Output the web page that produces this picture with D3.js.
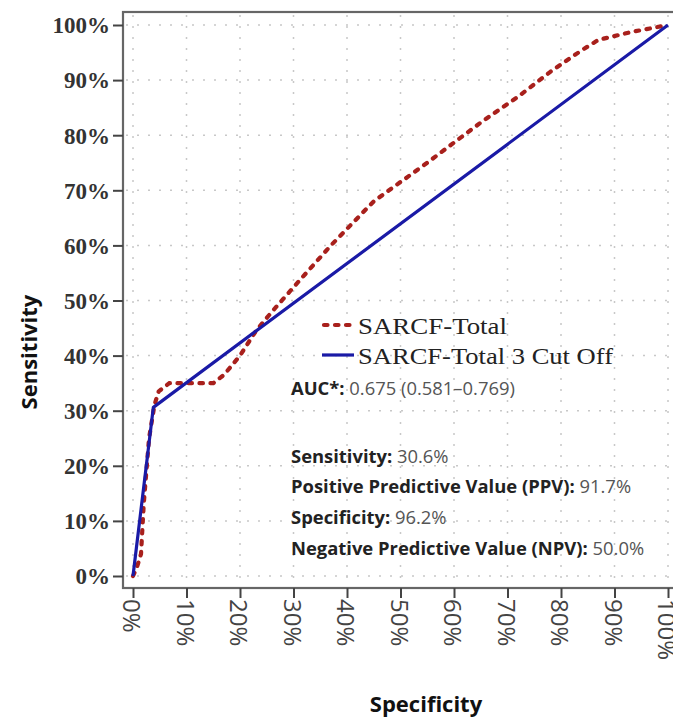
<!DOCTYPE html>
<html>
<head>
<meta charset="utf-8">
<script src="https://cdn.jsdelivr.net/npm/d3@7"></script>
<style>
  html, body { margin: 0; padding: 0; background: #fff; }
  svg { display: block; }
</style>
</head>
<body>
<svg id="chart" width="673" height="718"></svg>
<script>
// ---- data (percent) ----
const tickValues = [0, 10, 20, 30, 40, 50, 60, 70, 80, 90, 100];
const tickLabels = ["0%", "10%", "20%", "30%", "40%", "50%", "60%", "70%", "80%", "90%", "100%"];

// SARCF-Total ROC curve: [1 - specificity %, sensitivity %]
const sarcfTotalX = [0, 0.7, 1.5, 2, 3, 4, 4.8, 6.8, 15, 17, 20, 23, 26, 31, 37, 41, 45, 50, 55, 65, 72, 78, 84, 87, 93, 100];
const sarcfTotalY = [0, 1.5, 4, 13, 25, 31, 33.5, 35, 35, 36.5, 40, 44.5, 48, 53.5, 60, 64, 68, 71.5, 75, 82.3, 87, 91.5, 95.5, 97.3, 98.7, 100];

// SARCF-Total 3 cut off
const cutOffX = [0, 3.8, 100];
const cutOffY = [0, 30.6, 100];

const seriesNames = ["SARCF-Total", "SARCF-Total 3 Cut Off"];
const axisTitles = { x: "Specificity", y: "Sensitivity" };
const statLines = [
  ["AUC*: ", "0.675 (0.581\u20130.769)"],
  ["Sensitivity: ", "30.6%"],
  ["Positive Predictive Value (PPV): ", "91.7%"],
  ["Specificity: ", "96.2%"],
  ["Negative Predictive Value (NPV): ", "50.0%"]
];

// ---- drawing ----
const svg = d3.select("#chart");
const frame = { left: 123, top: 12, right: 683, bottom: 588 };
const x = d3.scaleLinear().domain([0, 100]).range([133, 668]);
const y = d3.scaleLinear().domain([0, 100]).range([576, 25]);

// gridlines
const grid = svg.append("g").attr("stroke", "#c8c8c8").attr("stroke-width", 1.5)
  .attr("stroke-dasharray", "2,9");
grid.selectAll("line.h").data(tickValues).join("line")
  .attr("x1", frame.left + 3).attr("x2", frame.right)
  .attr("y1", d => y(d)).attr("y2", d => y(d));
grid.selectAll("line.v").data(tickValues).join("line")
  .attr("y1", frame.top + 3).attr("y2", frame.bottom)
  .attr("x1", d => x(d)).attr("x2", d => x(d));

// frame
svg.append("rect")
  .attr("x", frame.left).attr("y", frame.top)
  .attr("width", frame.right - frame.left).attr("height", frame.bottom - frame.top)
  .attr("fill", "none").attr("stroke", "#666").attr("stroke-width", 2.2);

// axes
const yAxis = svg.append("g").attr("transform", `translate(${frame.left},0)`)
  .call(d3.axisLeft(y).tickValues(tickValues).tickSize(10).tickPadding(3)
    .tickFormat((d, i) => tickLabels[i]));
yAxis.select(".domain").remove();
yAxis.selectAll(".tick line").attr("stroke", "#444").attr("stroke-width", 2);
yAxis.selectAll(".tick text")
  .attr("font-family", "'Liberation Serif', 'Times New Roman', serif")
  .attr("font-weight", "bold").attr("font-size", 23).attr("fill", "#333")
  .attr("dy", "0.34em");

const xAxis = svg.append("g").attr("transform", `translate(0,${frame.bottom})`)
  .call(d3.axisBottom(x).tickValues(tickValues).tickSize(10)
    .tickFormat((d, i) => tickLabels[i]));
xAxis.select(".domain").remove();
xAxis.selectAll(".tick line").attr("stroke", "#444").attr("stroke-width", 2);
xAxis.selectAll(".tick text")
  .attr("font-family", "'Open Sans', sans-serif")
  .attr("font-size", 24).attr("fill", "#444")
  .attr("text-anchor", "start")
  .attr("dominant-baseline", "central")
  .attr("transform", "translate(-1,11) rotate(90)")
  .attr("y", 0).attr("x", 0).attr("dy", null);

// axis titles
svg.append("text")
  .attr("transform", "translate(37,352) rotate(-90)")
  .attr("text-anchor", "middle")
  .attr("font-family", "'Open Sans', sans-serif").attr("font-weight", "bold")
  .attr("font-size", 22).attr("fill", "#111")
  .text(axisTitles.y);
svg.append("text")
  .attr("x", 426).attr("y", 712)
  .attr("text-anchor", "middle")
  .attr("font-family", "'Open Sans', sans-serif").attr("font-weight", "bold")
  .attr("font-size", 22).attr("fill", "#111")
  .text(axisTitles.x);

// lines
const line = d3.line().x(d => x(d[0])).y(d => y(d[1]));
const cutData = cutOffX.map((v, i) => [v, cutOffY[i]]);
const totalData = sarcfTotalX.map((v, i) => [v, sarcfTotalY[i]]);

svg.append("path").datum(totalData)
  .attr("d", line).attr("fill", "none")
  .attr("stroke", "#a8201c").attr("stroke-width", 4.2)
  .attr("stroke-linecap", "round").attr("stroke-dasharray", "3.5,7.5");

svg.append("path").datum(cutData)
  .attr("d", line).attr("fill", "none")
  .attr("stroke", "#1a1aa6").attr("stroke-width", 3.2)
  .attr("stroke-linejoin", "round");

// legend
const legend = svg.append("g");
legend.append("line").attr("x1", 324).attr("x2", 354).attr("y1", 325).attr("y2", 325)
  .attr("stroke", "#a8201c").attr("stroke-width", 4.2)
  .attr("stroke-linecap", "round").attr("stroke-dasharray", "3.5,7.5");
legend.append("line").attr("x1", 322).attr("x2", 354).attr("y1", 355).attr("y2", 355)
  .attr("stroke", "#1a1aa6").attr("stroke-width", 3.2);
legend.selectAll("text.lg").data(seriesNames).join("text")
  .attr("x", 358).attr("y", (d, i) => 334 + i * 30)
  .attr("font-family", "'Liberation Serif', 'Times New Roman', serif")
  .attr("font-size", 23).attr("fill", "#222")
  .attr("textLength", (d, i) => i === 0 ? 149 : 255)
  .attr("lengthAdjust", "spacingAndGlyphs")
  .text(d => d);

// stats text
const statY = [395, 463, 493, 524, 555];
const stats = svg.append("g")
  .attr("font-family", "'Open Sans', sans-serif").attr("font-size", 18.4);
statLines.forEach((s, i) => {
  const t = stats.append("text").attr("x", 291).attr("y", statY[i]);
  t.append("tspan").attr("font-weight", "bold").attr("fill", "#222").text(s[0]);
  t.append("tspan").attr("fill", "#555").text(s[1]);
});
</script>
</body>
</html>
